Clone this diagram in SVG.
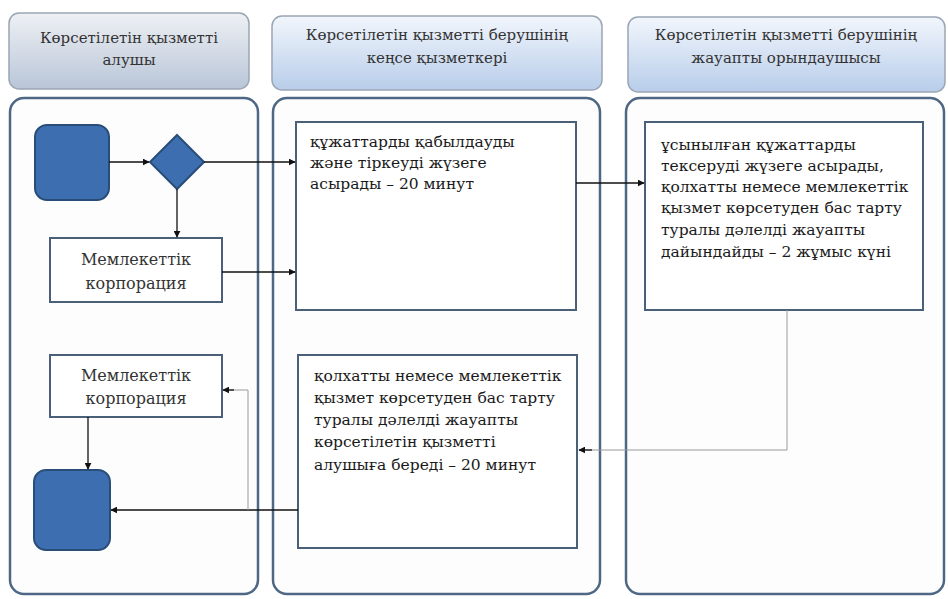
<svg xmlns="http://www.w3.org/2000/svg" width="948" height="599" viewBox="0 0 948 599">
<defs>
<linearGradient id="hg1" x1="0" y1="0" x2="0" y2="1"><stop offset="0" stop-color="#eef0f4"/><stop offset="1" stop-color="#b9c6d8"/></linearGradient>
<linearGradient id="hg2" x1="0" y1="0" x2="0" y2="1"><stop offset="0" stop-color="#f2f6fc"/><stop offset="1" stop-color="#b8cdea"/></linearGradient>
<marker id="ah" viewBox="0 0 10 10" refX="9" refY="5" markerWidth="7" markerHeight="7" orient="auto" markerUnits="userSpaceOnUse"><path d="M0,0 L10,5 L0,10 z" fill="#111"/></marker>
<style>
.hdr{stroke:#9aa6b4;stroke-width:1.5}
.lane{fill:#fdfdfe;stroke:#4d6784;stroke-width:2.5}
.box{fill:#fff;stroke:#4a6078;stroke-width:2}
.term{fill:#3d6fb0;stroke:#284d78;stroke-width:2}
.t{font-family:"DejaVu Serif",serif;font-size:15.5px;fill:#1a1a1a}
.h{font-family:"DejaVu Serif",serif;font-size:15px;fill:#333;text-anchor:middle}
.c{font-family:"DejaVu Serif",serif;font-size:16px;fill:#333;text-anchor:middle}
.ln{fill:none;stroke:#111;stroke-width:1.3}
.lg{fill:none;stroke:#999;stroke-width:1}
</style>
</defs>
<g id="header1"><rect class="hdr" x="9" y="13" width="240" height="76" rx="10" fill="url(#hg1)"/><text class="h" x="129" y="43">Көрсетілетін қызметті</text><text class="h" x="129" y="65">алушы</text></g>
<g id="header2"><rect class="hdr" x="272" y="16" width="330" height="74" rx="10" fill="url(#hg2)"/><text class="h" x="437" y="40">Көрсетілетін қызметті берушінің</text><text class="h" x="437" y="63">кеңсе қызметкері</text></g>
<g id="header3"><rect class="hdr" x="628" y="17" width="317" height="75" rx="10" fill="url(#hg2)"/><text class="h" x="786" y="40">Көрсетілетін қызметті берушінің</text><text class="h" x="786" y="63">жауапты орындаушысы</text></g>
<g id="lane1"><rect class="lane" x="10" y="98" width="248" height="496" rx="14"/></g>
<g id="lane2"><rect class="lane" x="273" y="98" width="327" height="496" rx="14"/></g>
<g id="lane3"><rect class="lane" x="626" y="98" width="318" height="496" rx="14"/></g>
<g id="start"><rect class="term" x="35" y="125" width="74" height="75" rx="12"/></g>
<g id="decision"><polygon class="term" points="177,135 204,162 177,189 150,162"/></g>
<g id="corp1"><rect class="box" x="50" y="238" width="172" height="64"/><text class="c" x="136" y="265">Мемлекеттік</text><text class="c" x="136" y="289">корпорация</text></g>
<g id="corp2"><rect class="box" x="50" y="355" width="172" height="62"/><text class="c" x="136" y="381">Мемлекеттік</text><text class="c" x="136" y="404">корпорация</text></g>
<g id="end"><rect class="term" x="34" y="470" width="76" height="80" rx="12"/></g>
<g id="box1"><rect class="box" x="296" y="122" width="280" height="188"/><text class="t" x="310" y="147">құжаттарды қабылдауды</text><text class="t" x="310" y="168">және тіркеуді жүзеге</text><text class="t" x="310" y="189">асырады – 20 минут</text></g>
<g id="box3"><rect class="box" x="645" y="122" width="278" height="188"/><text class="t" x="661" y="150">ұсынылған құжаттарды</text><text class="t" x="661" y="171">тексеруді жүзеге асырады,</text><text class="t" x="661" y="192">қолхатты немесе мемлекеттік</text><text class="t" x="661" y="213">қызмет көрсетуден бас тарту</text><text class="t" x="661" y="235">туралы дәлелді жауапты</text><text class="t" x="661" y="257">дайындайды – 2 жұмыс күні</text></g>
<g id="box2"><rect class="box" x="298" y="355" width="279" height="193"/><text class="t" x="314" y="381">қолхатты немесе мемлекеттік</text><text class="t" x="314" y="403">қызмет көрсетуден бас тарту</text><text class="t" x="314" y="425">туралы дәлелді жауапты</text><text class="t" x="314" y="447">көрсетілетін қызметті</text><text class="t" x="314" y="470">алушыға береді – 20 минут</text></g>
<g id="connectors">
<path class="ln" d="M109,162 H149" marker-end="url(#ah)"/>
<path class="ln" d="M204,162 H295" marker-end="url(#ah)"/>
<path class="ln" d="M177,189 V237" marker-end="url(#ah)"/>
<path class="ln" d="M222,272 H295" marker-end="url(#ah)"/>
<path class="ln" d="M576,183 H644" marker-end="url(#ah)"/>
<path class="lg" d="M787,310 V450 H580"/>
<path class="ln" d="M592,450 H579" marker-end="url(#ah)"/>
<path class="ln" d="M298,510 H111" marker-end="url(#ah)"/>
<path class="lg" d="M248,510 V390 H224"/>
<path class="ln" d="M234,390 H223" marker-end="url(#ah)"/>
<path class="ln" d="M88,417 V469" marker-end="url(#ah)"/>
</g>
</svg>
